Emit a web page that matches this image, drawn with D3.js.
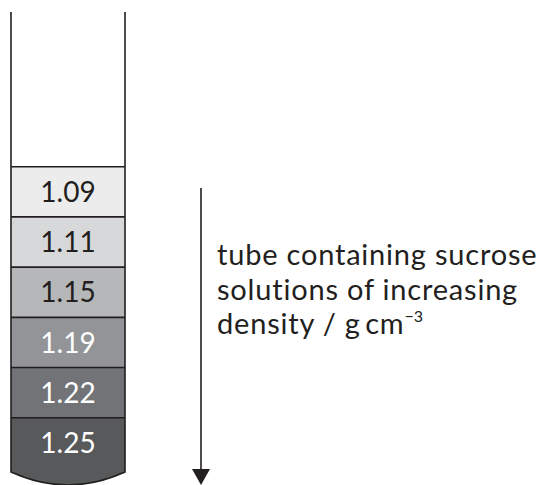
<!DOCTYPE html>
<html>
<head>
<meta charset="utf-8">
<script src="https://cdn.jsdelivr.net/npm/d3@7"></script>
<style>
  html, body { margin: 0; padding: 0; background: #fff; }
  svg { display: block; font-family: Lato, "Noto Sans", sans-serif; }
</style>
</head>
<body>
<div id="chart"></div>
<script>
// sucrose layers, top to bottom
const densities = ['1.09', '1.11', '1.15', '1.19', '1.22', '1.25'];
const layerFills = ['#ececed', '#d7d8d9', '#b6b7b9', '#939497', '#727376', '#58595b'];
const labelFills = ['#231f20', '#231f20', '#231f20', '#fff', '#fff', '#fff'];
const captionLines = ['tube containing sucrose', 'solutions of increasing', 'density / g\u2009cm'];

const width = 543, height = 485;
const ink = '#231f20';

const svg = d3.select('#chart').append('svg')
  .attr('width', width).attr('height', height)
  .attr('viewBox', `0 0 ${width} ${height}`);

const x = d3.scaleLinear().domain([0, 1]).range([11, 125]);
const y = d3.scaleBand().domain(densities).range([166.7, 468]).padding(0);

const tubeTop = 12, bottomApex = 485;
const last = densities[densities.length - 1];
const yEnd = y(last) + y.bandwidth() + 4;
const ctrlY = bottomApex + (bottomApex - yEnd);

// layers
svg.selectAll('path.layer').data(densities).join('path')
  .attr('class', 'layer')
  .attr('fill', (d, i) => layerFills[i])
  .attr('d', d => {
    const y0 = y(d), y1 = y(d) + y.bandwidth();
    if (d !== last) return `M${x(0)},${y0}H${x(1)}V${y1}H${x(0)}Z`;
    return `M${x(0)},${y0}H${x(1)}V${yEnd}Q${x(0.5)},${ctrlY} ${x(0)},${yEnd}Z`;
  });

// boundaries between layers
svg.selectAll('line.sep').data(densities).join('line')
  .attr('class', 'sep')
  .attr('x1', x(0)).attr('x2', x(1))
  .attr('y1', d => y(d)).attr('y2', d => y(d))
  .attr('stroke', ink).attr('stroke-width', 1.6);

// tube outline
svg.append('path')
  .attr('fill', 'none').attr('stroke', ink).attr('stroke-width', 1.6)
  .attr('d', `M${x(0)},${tubeTop}V${yEnd}Q${x(0.5)},${ctrlY} ${x(1)},${yEnd}V${tubeTop}`);

// layer labels
svg.selectAll('text.lab').data(densities).join('text')
  .attr('class', 'lab')
  .attr('x', x(0.5))
  .attr('y', d => y(d) + y.bandwidth() / 2)
  .attr('dy', '0.36em')
  .attr('text-anchor', 'middle')
  .attr('font-size', 28)
  .attr('fill', (d, i) => labelFills[i])
  .text(d => d);

// arrow
const ax = 201;
svg.append('line')
  .attr('x1', ax).attr('x2', ax).attr('y1', 188).attr('y2', 472)
  .attr('stroke', ink).attr('stroke-width', 1.6);
svg.append('path')
  .attr('fill', ink)
  .attr('d', `M${ax - 9},${469}L${ax + 9},${469}L${ax},${485}Z`);

// caption
const cap = svg.append('text')
  .attr('font-size', 29).attr('letter-spacing', 0.8).attr('fill', ink);
captionLines.forEach((t, i) => {
  cap.append('tspan').attr('x', 217).attr('y', 265 + i * 34.5).text(t);
});
cap.append('tspan').attr('font-size', 16).attr('letter-spacing', 0).attr('dy', -12).text('\u22123');
</script>
</body>
</html>
